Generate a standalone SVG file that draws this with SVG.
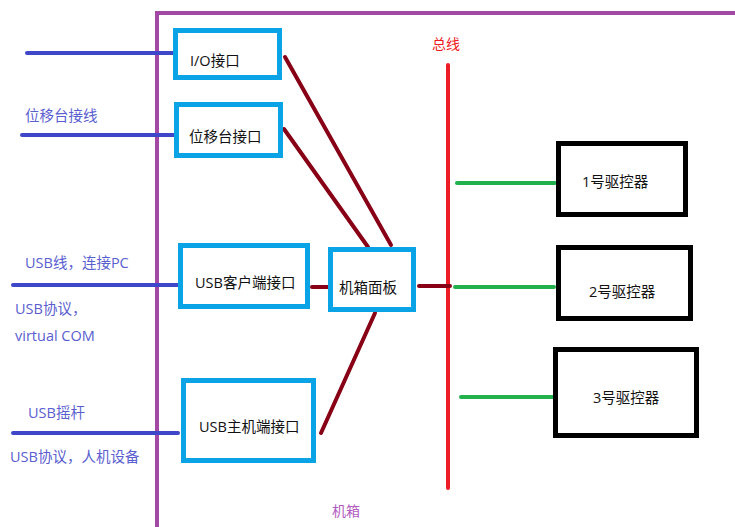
<svg xmlns="http://www.w3.org/2000/svg" width="735" height="527" viewBox="0 0 735 527">
<style>
.t{font-family:"Open Sans","Noto Sans CJK SC",sans-serif;font-size:14.5px;fill:#111}
.lb{font-family:"Open Sans","Noto Sans CJK SC",sans-serif;font-size:14.5px;fill:#5a5ed0}
.bx{fill:#fff;stroke:#0aa3e6;stroke-width:5}
.dx{fill:#fff;stroke:#000;stroke-width:5}
.ext{stroke:#3f47c9;stroke-width:4;stroke-linecap:round;fill:none}
.int{stroke:#880015;stroke-width:4;stroke-linecap:round;fill:none}
.grn{stroke:#22b14c;stroke-width:4;stroke-linecap:round;fill:none}
</style>
<rect width="735" height="527" fill="#fff"/>
<g id="chassis">
<path d="M157 529 V13 H740" fill="none" stroke="#a349a4" stroke-width="4"/>
<text x="332" y="516" style="font-family:'Noto Sans CJK SC',sans-serif;font-size:14px;fill:#b35cc0">机箱</text>
</g>
<g id="bus">
<line x1="448" y1="65" x2="448" y2="488" stroke="#ed1c24" stroke-width="4" stroke-linecap="round"/>
<text x="432" y="49" style="font-family:'Noto Sans CJK SC',sans-serif;font-size:14px;fill:#ed1c24">总线</text>
</g>
<g id="connectors">
<line class="ext" x1="27" y1="53" x2="173" y2="53"/>
<line class="ext" x1="22" y1="135" x2="176" y2="135"/>
<line class="ext" x1="13" y1="285" x2="178" y2="285"/>
<line class="ext" x1="13" y1="433" x2="178" y2="433"/>
<line class="int" x1="285" y1="57" x2="391" y2="245"/>
<line class="int" x1="284" y1="129" x2="368" y2="247"/>
<line class="int" x1="312" y1="287" x2="330" y2="287"/>
<line class="int" x1="419" y1="286" x2="450" y2="286"/>
<line class="int" x1="321" y1="433" x2="375" y2="313"/>
<line class="grn" x1="457" y1="183" x2="555" y2="183"/>
<line class="grn" x1="455" y1="287" x2="554" y2="287"/>
<line class="grn" x1="461" y1="397" x2="553" y2="397"/>
</g>
<g id="labels">
<text class="lb" x="25" y="121">位移台接线</text>
<text class="lb" x="25" y="268">USB线，连接PC</text>
<text class="lb" x="15" y="314">USB协议，</text>
<text class="lb" x="15" y="341">virtual COM</text>
<text class="lb" x="28" y="418">USB摇杆</text>
<text class="lb" x="10" y="462">USB协议，人机设备</text>
</g>
<g id="io">
<rect class="bx" x="175.5" y="30.5" width="104" height="47"/>
<text class="t" x="190" y="66">I/O接口</text>
</g>
<g id="stage">
<rect class="bx" x="176.5" y="104.5" width="104" height="51"/>
<text class="t" x="189" y="142">位移台接口</text>
</g>
<g id="usbclient">
<rect class="bx" x="180.5" y="245.5" width="127" height="61"/>
<text class="t" x="195" y="288">USB客户端接口</text>
</g>
<g id="usbhost">
<rect class="bx" x="183.5" y="380.5" width="130" height="80"/>
<text class="t" x="199" y="432">USB主机端接口</text>
</g>
<g id="panel">
<rect class="bx" x="330.5" y="249.5" width="83" height="60"/>
<text class="t" x="339" y="293">机箱面板</text>
</g>
<g id="drv1">
<rect class="dx" x="558.5" y="143.5" width="127" height="71"/>
<text class="t" x="582" y="187">1号驱控器</text>
</g>
<g id="drv2">
<rect class="dx" x="558.5" y="247.5" width="132" height="71"/>
<text class="t" x="589" y="297">2号驱控器</text>
</g>
<g id="drv3">
<rect class="dx" x="555.5" y="349.5" width="141" height="86"/>
<text class="t" x="593" y="403">3号驱控器</text>
</g>
</svg>
